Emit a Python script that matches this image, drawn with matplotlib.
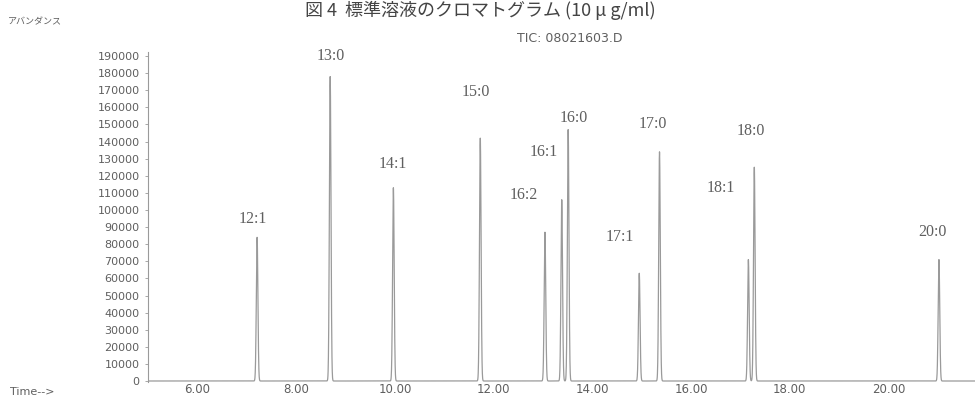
import numpy as np
import matplotlib
matplotlib.use("Agg")
import matplotlib.pyplot as plt

# ---- data ----
peak_names = ["12:1", "13:0", "14:1", "15:0", "16:2", "16:1", "16:0",
              "17:1", "17:0", "18:1", "18:0", "20:0"]
peak_times = [7.21, 8.69, 9.97, 11.73, 13.04, 13.38, 13.51,
              14.95, 15.36, 17.16, 17.28, 21.02]
peak_heights = [84000, 178000, 113000, 142000, 87000, 106000, 147000,
                63000, 134000, 71000, 125000, 71000]
# label anchor positions (time, abundance)
label_times = [7.13, 8.71, 9.96, 11.63, 12.61, 13.02, 13.63,
               14.56, 15.22, 16.61, 17.20, 20.88]
label_levels = [95000, 190000, 127000, 169000, 109000, 134000, 154000,
                84000, 150000, 113000, 146000, 87000]

x_ticks = [6, 8, 10, 12, 14, 16, 18, 20]
y_ticks = list(range(0, 190001, 10000))

title = "図 4  標準溶液のクロマトグラム (10 μ g/ml)"
y_caption = "アバンダンス"
tic_caption = "TIC: 08021603.D"
x_caption = "Time-->"

# ---- figure ----
W, H = 980, 399
fig = plt.figure(figsize=(W / 100, H / 100), dpi=100)
fig.patch.set_facecolor("white")

ax_left, ax_right = 148, 975
ax_top, ax_bot = 52, 382
ax = fig.add_axes([ax_left / W, 1 - ax_bot / H,
                   (ax_right - ax_left) / W, (ax_bot - ax_top) / H])

line_col = "#9a9a9a"
text_col = "#5f5f5f"

t = np.arange(5.0, 21.75, 0.002)
sigma = 0.016
signal = np.zeros_like(t)
for rt, h in zip(peak_times, peak_heights):
    signal += h * np.exp(-0.5 * ((t - rt) / sigma) ** 2)
ax.plot(t, signal, color=line_col, lw=0.9)

ax.set_xlim(5.0, 21.75)
px_per_unit = 17.1 / 10000
ax.set_ylim(-1 / px_per_unit, (ax_bot - ax_top - 1) / px_per_unit)

for name, lt, lv in zip(peak_names, label_times, label_levels):
    ax.text(lt, lv, name, ha="center", va="center", fontsize=11.5,
            family="Liberation Serif", color=text_col)

ax.set_yticks(y_ticks)
ax.set_yticklabels([str(v) for v in y_ticks])
ax.set_xticks(x_ticks)
ax.set_xticklabels(["%.2f" % v for v in x_ticks])
ax.tick_params(axis="y", length=2, width=0.6, color=line_col, pad=4,
               labelsize=8, labelcolor=text_col)
ax.tick_params(axis="x", length=0, pad=1, labelsize=8.5, labelcolor=text_col)
for s in ["top", "right", "bottom"]:
    ax.spines[s].set_visible(False)
ax.spines["left"].set_color(line_col)
ax.spines["left"].set_linewidth(0.8)
ax.patch.set_alpha(0)

fig.text(480 / W, 1 - 10 / H, title, ha="center", va="center", fontsize=13,
         family=["Noto Sans CJK JP", "DejaVu Sans"], color="#444444")
fig.text(8 / W, 1 - 22 / H, y_caption, ha="left", va="center", fontsize=6.5,
         family=["Noto Sans CJK JP", "DejaVu Sans"], color=text_col)
fig.text(570 / W, 1 - 38 / H, tic_caption, ha="center", va="center",
         fontsize=9, color=text_col)
fig.text(10 / W, 1 - 392 / H, x_caption, ha="left", va="center",
         fontsize=8, color=text_col)

fig.savefig("out.png", dpi=100, facecolor="white")
